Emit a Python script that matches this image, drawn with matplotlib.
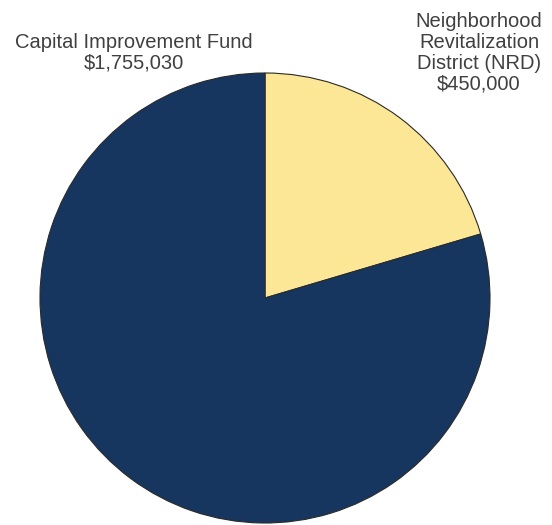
import matplotlib.pyplot as plt

labels = ["Neighborhood\nRevitalization\nDistrict (NRD)\n$450,000",
          "Capital Improvement Fund\n$1,755,030"]
values = [450000, 1755030]
colors = ["#fbe796", "#16365f"]

plt.rcParams['font.family'] = ['Liberation Sans', 'DejaVu Sans']

fig = plt.figure(figsize=(5.52, 5.25), dpi=100)
ax = fig.add_axes([0, 0, 1, 1])

ax.pie(values, colors=colors, startangle=90, counterclock=False,
       center=(265, 227), radius=225,
       wedgeprops=dict(edgecolor='#2a2a2a', linewidth=0.8))

# pie() resets the limits, so fix them afterwards (1 unit = 1 pixel)
ax.set_xlim(0, 552)
ax.set_ylim(0, 525)
ax.set_aspect('equal')
ax.axis('off')

ax.text(479, 472, labels[0], ha='center', va='center', fontsize=14.5,
        color='#404040', linespacing=1.12)
ax.text(134, 472, labels[1], ha='center', va='center', fontsize=14.5,
        color='#404040', linespacing=1.12)

fig.savefig("out.png", dpi=100)
